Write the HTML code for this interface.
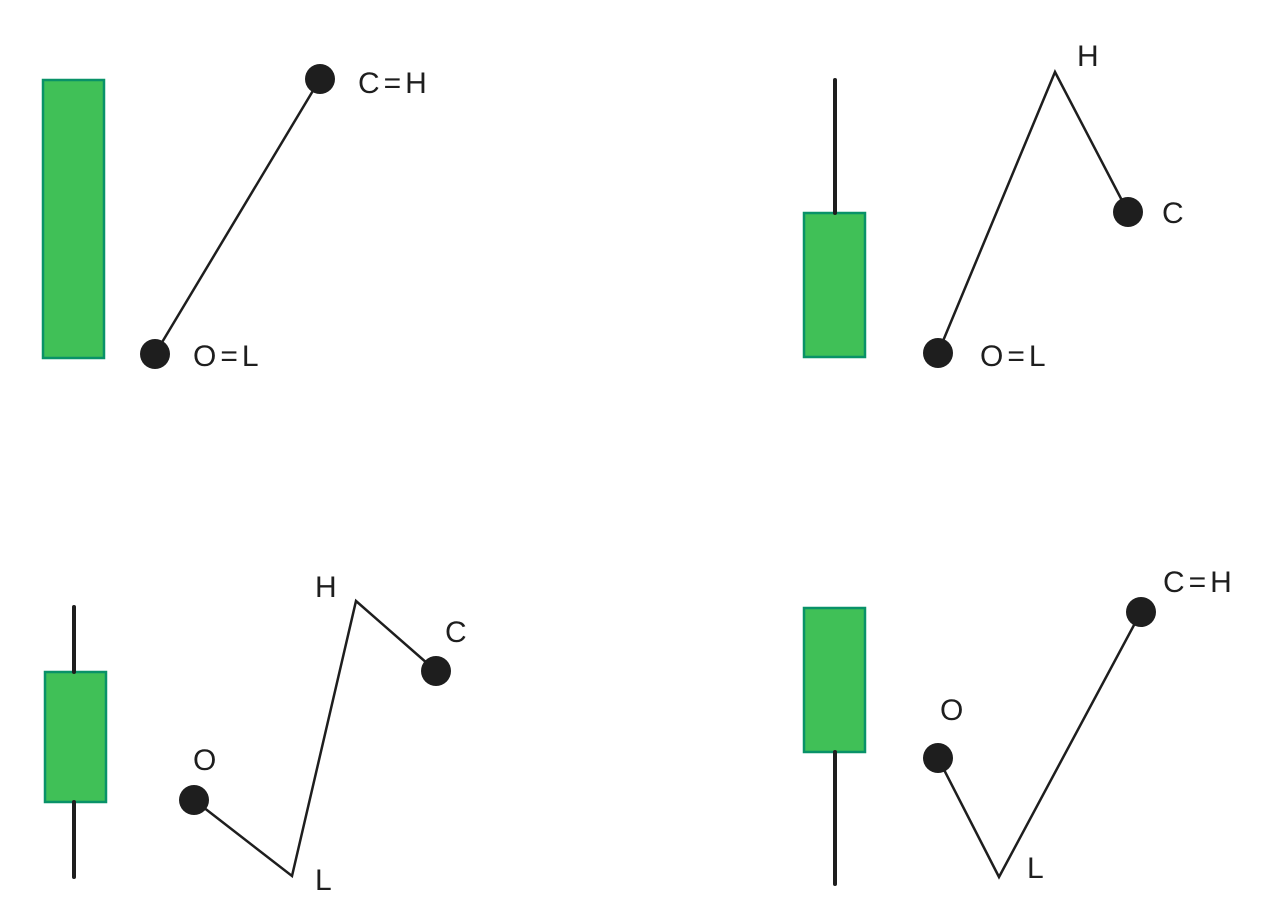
<!DOCTYPE html>
<html><head><meta charset="utf-8"><style>
html,body{margin:0;padding:0;background:#fff;}
svg{display:block;}
text{font-family:"Liberation Sans",sans-serif;font-size:30px;fill:#1e1e1e;letter-spacing:4px;font-weight:300;}
</style></head><body>
<svg width="1261" height="916" viewBox="0 0 1261 916" xmlns="http://www.w3.org/2000/svg">
<g fill="#40c057" stroke="#099268" stroke-width="2.5">
<rect x="43" y="80" width="61" height="278"/>
<rect x="804" y="213" width="61" height="144"/>
<rect x="45" y="672" width="61" height="130"/>
<rect x="804" y="608" width="61" height="144"/>
</g>
<g stroke="#1e1e1e" stroke-width="4" stroke-linecap="round">
<line x1="835" y1="80" x2="835" y2="213"/>
<line x1="74" y1="607" x2="74" y2="672"/>
<line x1="74" y1="802" x2="74" y2="877"/>
<line x1="835" y1="752" x2="835" y2="884"/>
</g>
<g fill="none" stroke="#1e1e1e" stroke-width="2.5" stroke-linejoin="miter">
<polyline points="155,354 320,79"/>
<polyline points="938,353 1055,72 1128,212"/>
<polyline points="194,800 292,876 356,601 436,671"/>
<polyline points="938,758 999,877 1141,612"/>
</g>
<g fill="#1e1e1e">
<circle cx="155" cy="354" r="15"/>
<circle cx="320" cy="79" r="15"/>
<circle cx="938" cy="353" r="15"/>
<circle cx="1128" cy="212" r="15"/>
<circle cx="194" cy="800" r="15"/>
<circle cx="436" cy="671" r="15"/>
<circle cx="938" cy="758" r="15"/>
<circle cx="1141" cy="612" r="15"/>
</g>
<text x="358" y="93">C=H</text>
<text x="193" y="366">O=L</text>
<text x="1077" y="66">H</text>
<text x="1162" y="223">C</text>
<text x="980" y="366">O=L</text>
<text x="193" y="770">O</text>
<text x="315" y="890">L</text>
<text x="315" y="597">H</text>
<text x="445" y="642">C</text>
<text x="940" y="720">O</text>
<text x="1027" y="878">L</text>
<text x="1163" y="592">C=H</text>
</svg>
</body></html>
